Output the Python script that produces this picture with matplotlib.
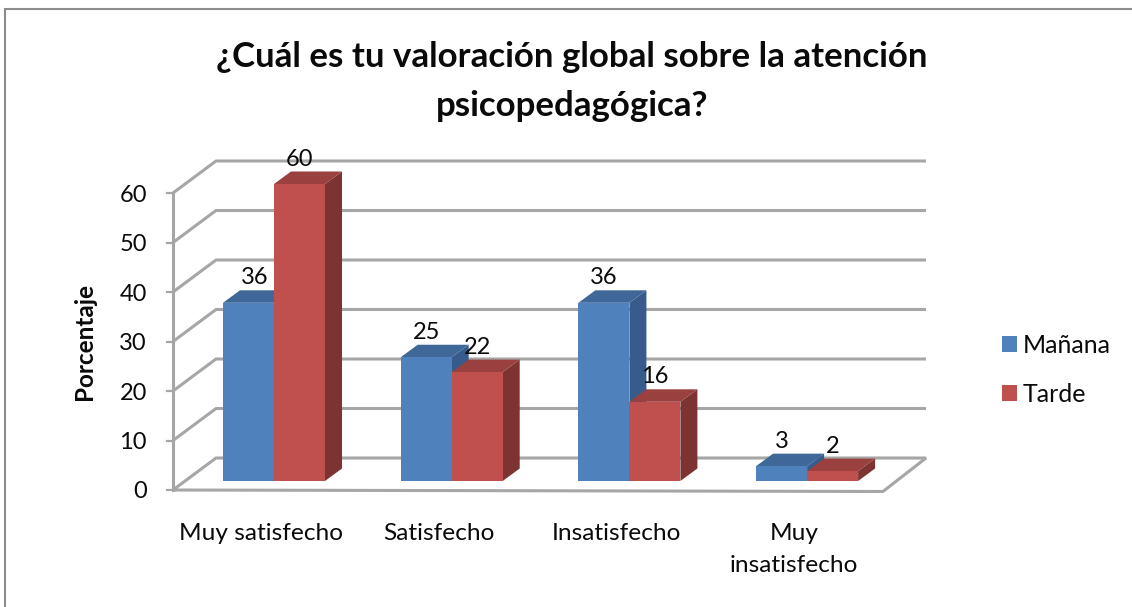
import matplotlib
matplotlib.use("Agg")
import matplotlib.pyplot as plt
from matplotlib.patches import Patch, Polygon, Rectangle

# data
categories = ["Muy satisfecho", "Satisfecho", "Insatisfecho", "Muy\ninsatisfecho"]
manana = [36, 25, 36, 3]
tarde = [60, 22, 16, 2]
y_ticks = [0, 10, 20, 30, 40, 50, 60]
series_names = ["Mañana", "Tarde"]

W, H = 1132, 607
PX_X = 177.7  # px per category
PX_Y = 4.95  # px per percent
Y0_PX = 490
X0_PX = 223

BAR_W = 51 / PX_X
WALL_DX, WALL_DY = 43 / PX_X, 32 / PX_Y
BAR_DX, BAR_DY = 17 / PX_X, 12.5 / PX_Y
BAR_BASE = 9 / PX_Y
FLOOR_L = -50 / PX_X
FLOOR_R = (883 - X0_PX) / PX_X

GRID = "#a6a6a6"
BLUE = ("#4f81bd", "#3f6797", "#375c8b")
RED = ("#c0504d", "#9a403e", "#7d3331")
INK = "#0a0a0a"

plt.rcParams["font.family"] = ["Lato", "DejaVu Sans"]

fig = plt.figure(figsize=(W / 100, H / 100), dpi=100)
ax = fig.add_axes([0, 0, 1, 1])
ax.set_xlim(-X0_PX / PX_X, (W - X0_PX) / PX_X)
ax.set_ylim(-(H - Y0_PX) / PX_Y, Y0_PX / PX_Y)
ax.axis("off")

# chart frame, only the top and left edges are inside the crop
ax.plot([5 / W, 5 / W, 1], [0, 1 - 8.5 / H, 1 - 8.5 / H], transform=ax.transAxes,
        color="#8c8c8c", lw=1.5, solid_joinstyle="miter")

# walls and grid lines
for v in y_ticks[1:]:
    ax.plot([FLOOR_L, FLOOR_L + WALL_DX, FLOOR_R + WALL_DX], [v, v + WALL_DY, v + WALL_DY],
            color=GRID, lw=2.2, solid_capstyle="butt", zorder=1)
ax.add_patch(Polygon([(FLOOR_L, 0), (FLOOR_L + WALL_DX, WALL_DY), (FLOOR_R + WALL_DX, WALL_DY), (FLOOR_R, -0.3)],
                     closed=True, fill=False, ec=GRID, lw=2.2, zorder=1))
ax.plot([FLOOR_L, FLOOR_L], [0, 60], color=GRID, lw=2.2, zorder=1)
for v in y_ticks:
    ax.plot([FLOOR_L - 6 / PX_X, FLOOR_L], [v, v], color=GRID, lw=1.6, zorder=1)
    ax.text(FLOOR_L - 26 / PX_X, v, str(v), ha="right", va="center_baseline", fontsize=17, color=INK)


def bar3d(x, v, cols, z):
    b = BAR_BASE
    ax.add_patch(Polygon([(x + BAR_W, b), (x + BAR_W + BAR_DX, b + BAR_DY),
                          (x + BAR_W + BAR_DX, b + v + BAR_DY), (x + BAR_W, b + v)],
                         closed=True, fc=cols[2], ec="none", zorder=z))
    ax.add_patch(Polygon([(x, b + v), (x + BAR_DX, b + v + BAR_DY),
                          (x + BAR_W + BAR_DX, b + v + BAR_DY), (x + BAR_W, b + v)],
                         closed=True, fc=cols[1], ec="none", zorder=z))
    ax.add_patch(Rectangle((x, b), BAR_W, v, fc=cols[0], ec="none", zorder=z))


label_dx = [6, 0, 0, 0]
for i, cat in enumerate(categories):
    for j, (vals, cols) in enumerate([(manana, BLUE), (tarde, RED)]):
        x = i + j * BAR_W
        bar3d(x, vals[i], cols, 3 + j)
        off = label_dx[i] / PX_X if j == 0 else 0
        ax.text(x + BAR_W / 2 + off, BAR_BASE + vals[i] + 27 / PX_Y, str(vals[i]), ha="center",
                va="center_baseline", fontsize=17, color=INK, zorder=6)
    # first line of every category label sits on the same row
    ax.text(i + 38 / PX_X, -(523 - Y0_PX) / PX_Y, cat, ha="center", va="top", fontsize=17.6,
            color=INK, linespacing=1.64)

ax.text(85 / W, 1 - 341 / H, "Porcentaje", transform=ax.transAxes, rotation=90, ha="center", va="center",
        fontsize=17.5, fontweight="bold", color=INK)
fig.text(572 / W, 1 - 81.5 / H, "¿Cuál es tu valoración global sobre la atención\npsicopedagógica?",
         ha="center", va="center", fontsize=25.1, fontweight="bold", color=INK, linespacing=1.69)

handles = [Patch(fc=BLUE[0], label=series_names[0]), Patch(fc=RED[0], label=series_names[1])]
ax.legend(handles=handles, loc="center left", bbox_to_anchor=(1002 / W, 1 - 370 / H), frameon=False, fontsize=18,
          handlelength=0.6, handleheight=0.6, handletextpad=0.24, labelspacing=1.05, borderpad=0,
          borderaxespad=0, labelcolor=INK)

fig.savefig("out.png", dpi=100)
